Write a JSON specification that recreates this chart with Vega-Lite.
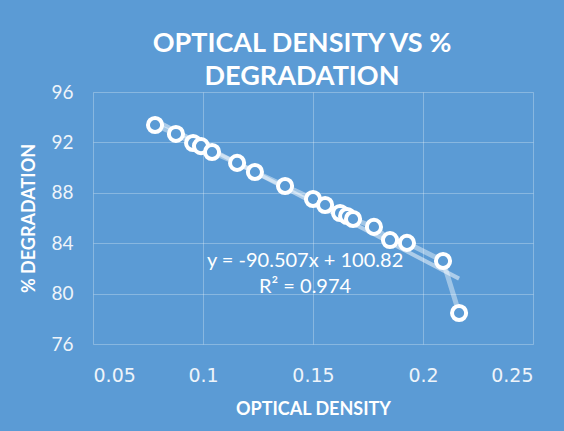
{
  "$schema": "https://vega.github.io/schema/vega-lite/v6.json",
  "width": 440,
  "height": 252,
  "autosize": {"type": "none"},
  "padding": {"left": 93, "top": 92, "right": 31, "bottom": 87},
  "background": "#5B9BD5",
  "config": {
    "view": {"stroke": null},
    "axis": {
      "grid": true,
      "gridColor": "#FFFFFF",
      "gridOpacity": 0.28,
      "gridWidth": 1,
      "domain": false,
      "ticks": false,
      "tickSize": 0,
      "labelColor": "#EEF4FA",
      "labelFont": "Lato",
      "labelFontSize": 19,
      "titleColor": "#FFFFFF",
      "titleFont": "Lato",
      "titleFontWeight": "bold",
      "titleFontSize": 18
    }
  },
  "title": {
    "text": ["OPTICAL DENSITY VS %", "DEGRADATION"],
    "font": "Lato",
    "fontSize": 27,
    "fontWeight": "bold",
    "color": "#FFFFFF",
    "lineHeight": 33,
    "dx": -11,
    "offset": -8
  },
  "datasets": {
    "pts": [
      {"x": 0.0782, "y": 93.38},
      {"x": 0.0877, "y": 92.67},
      {"x": 0.0955, "y": 91.95},
      {"x": 0.0991, "y": 91.71},
      {"x": 0.1041, "y": 91.24},
      {"x": 0.1155, "y": 90.37},
      {"x": 0.1236, "y": 89.65},
      {"x": 0.1373, "y": 88.54},
      {"x": 0.15, "y": 87.51},
      {"x": 0.1555, "y": 87.03},
      {"x": 0.1623, "y": 86.4},
      {"x": 0.1655, "y": 86.16},
      {"x": 0.1682, "y": 85.92},
      {"x": 0.1777, "y": 85.29},
      {"x": 0.185, "y": 84.25},
      {"x": 0.1927, "y": 84.02},
      {"x": 0.2091, "y": 82.59},
      {"x": 0.2164, "y": 78.46}
    ],
    "ann": [
      {"x": 0.1464, "y": 82.1, "label": "y = -90.507x + 100.82"},
      {"x": 0.1464, "y": 80.05, "label": "R² = 0.974"}
    ]
  },
  "layer": [
    {
      "data": {"name": "pts"},
      "mark": {"type": "line", "stroke": "#FFFFFF", "strokeOpacity": 0.42, "strokeWidth": 5},
      "encoding": {
        "x": {
          "field": "x", "type": "quantitative",
          "scale": {"domain": [0.05, 0.25], "nice": false, "zero": false},
          "axis": {"title": "OPTICAL DENSITY", "values": [0.05, 0.1, 0.15, 0.2, 0.25], "format": "~g", "labelFont": "DejaVu Sans", "labelFontSize": 19, "labelPadding": 22, "titlePadding": 15}
        },
        "y": {
          "field": "y", "type": "quantitative",
          "scale": {"domain": [76, 96], "nice": false, "zero": false},
          "axis": {"title": "% DEGRADATION", "values": [76, 80, 84, 88, 92, 96], "labelPadding": 20, "titlePadding": 12}
        }
      }
    },
    {
      "data": {"name": "pts"},
      "transform": [{"regression": "y", "on": "x"}],
      "mark": {"type": "line", "stroke": "#FFFFFF", "strokeOpacity": 0.5, "strokeWidth": 4},
      "encoding": {
        "x": {"field": "x", "type": "quantitative"},
        "y": {"field": "y", "type": "quantitative"}
      }
    },
    {
      "data": {"name": "pts"},
      "mark": {"type": "point", "shape": "circle", "filled": true, "fill": "#5B9BD5", "fillOpacity": 1, "stroke": "#FFFFFF", "strokeWidth": 4, "size": 200, "opacity": 1},
      "encoding": {
        "x": {"field": "x", "type": "quantitative"},
        "y": {"field": "y", "type": "quantitative"}
      }
    },
    {
      "data": {"name": "ann"},
      "mark": {"type": "text", "font": "Lato", "fontSize": 20, "color": "#FFFFFF", "align": "center", "baseline": "alphabetic"},
      "encoding": {
        "x": {"field": "x", "type": "quantitative"},
        "y": {"field": "y", "type": "quantitative"},
        "text": {"field": "label"}
      }
    }
  ]
}
